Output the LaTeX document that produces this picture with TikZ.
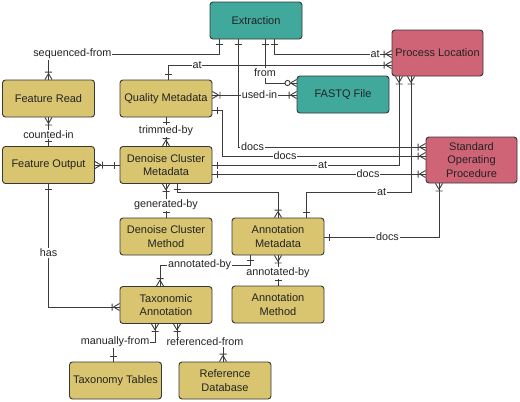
\documentclass[tikz,border=0pt]{standalone}
\usepackage{fontspec}
\setmainfont{Liberation Sans}
\usetikzlibrary{calc}
\definecolor{teal1}{RGB}{64,169,155}
\definecolor{pink1}{RGB}{207,100,118}
\definecolor{yel1}{RGB}{217,197,111}
\definecolor{edge1}{RGB}{55,55,55}
\definecolor{line1}{RGB}{60,60,60}
\definecolor{txt1}{RGB}{35,35,35}
\pgfarrowsdeclare{crw}{crw}
{\pgfarrowsleftextend{-8pt}\pgfarrowsrightextend{0pt}}
{\pgfsetdash{}{0pt}\pgfsetbuttcap
 \pgfpathmoveto{\pgfpoint{-6pt}{0pt}}\pgfpathlineto{\pgfpoint{0pt}{3.5pt}}
 \pgfpathmoveto{\pgfpoint{-6pt}{0pt}}\pgfpathlineto{\pgfpoint{0pt}{-3.5pt}}
 \pgfpathmoveto{\pgfpoint{-7.5pt}{3.5pt}}\pgfpathlineto{\pgfpoint{-7.5pt}{-3.5pt}}
 \pgfusepathqstroke}
\pgfarrowsdeclare{onebar}{onebar}
{\pgfarrowsleftextend{-6pt}\pgfarrowsrightextend{0pt}}
{\pgfsetdash{}{0pt}\pgfsetbuttcap
 \pgfpathmoveto{\pgfpoint{-5pt}{3.5pt}}\pgfpathlineto{\pgfpoint{-5pt}{-3.5pt}}
 \pgfusepathqstroke}
\pgfarrowsdeclare{zmany}{zmany}
{\pgfarrowsleftextend{-12pt}\pgfarrowsrightextend{0pt}}
{\pgfsetdash{}{0pt}\pgfsetbuttcap
 \pgfpathmoveto{\pgfpoint{-6pt}{0pt}}\pgfpathlineto{\pgfpoint{0pt}{3.5pt}}
 \pgfpathmoveto{\pgfpoint{-6pt}{0pt}}\pgfpathlineto{\pgfpoint{0pt}{-3.5pt}}
 \pgfusepathqstroke
 \pgfpathcircle{\pgfpoint{-9pt}{0pt}}{2.6pt}
 \pgfsetfillcolor{white}\pgfusepathqfillstroke}
\tikzset{
  box/.style={draw=edge1, line width=0.9pt, rounded corners=3pt,
    minimum width=92pt, minimum height=37pt, inner sep=0pt, align=center,
    text=txt1, font=\fontsize{11}{13.5}\selectfont},
  ybox/.style={box, fill=yel1},
  tbox/.style={box, fill=teal1},
  pbox/.style={box, fill=pink1, minimum height=46pt, minimum width=91pt},
  conn/.style={draw=line1, line width=0.9pt},
  lbl/.style={fill=white, inner sep=0.8pt, text=txt1,
    font=\fontsize{10.8}{12}\selectfont}
}
\begin{document}
\begin{tikzpicture}[x=1pt,y=-1pt]
\useasboundingbox (0,0) rectangle (520,402);
% boxes
\node[tbox] (ext) at (256,20.5) {Extraction};
\node[pbox] (pl) at (437.5,53) {Process Location};
\node[tbox] (fq) at (343,94.5) {FASTQ File};
\node[pbox] (sop) at (471.5,160) {Standard\\Operating\\Procedure};
\node[ybox] (fr) at (48.5,98.5) {Feature Read};
\node[ybox] (qm) at (166,98.5) {Quality Metadata};
\node[ybox] (fo) at (48.5,165) {Feature Output};
\node[ybox] (dcm) at (166,165) {Denoise Cluster\\Metadata};
\node[ybox] (dcmeth) at (166,236.5) {Denoise Cluster\\Method};
\node[ybox] (am) at (278,236.5) {Annotation\\Metadata};
\node[ybox] (ta) at (166,305) {Taxonomic\\Annotation};
\node[ybox] (amth) at (278,304.5) {Annotation\\Method};
\node[ybox] (tt) at (115.5,380.5) {Taxonomy Tables};
\node[ybox] (rd) at (225,380.5) {Reference\\Database};
% connectors
\draw[conn,crw-onebar] (fr.north) -- (48.5,54) -- node[lbl,pos=0.14] (l1) {sequenced-from} (219,54) -- (ext.south -| 219,0);
\draw[conn,onebar-crw] (qm.north -| 168,0) -- (168,65) -- node[lbl,pos=0.13] (l2) {at} (pl.west |- 0,65);
\draw[conn,onebar-crw] (ext.south -| 274,0) -- (274,54) -- node[lbl,pos=0.86] (l3) {at} (pl.west |- 0,54);
\draw[conn,onebar-crw] (ext.south -| 238,0) -- (238,147) -- node[lbl,pos=0.078] (l4) {docs} (sop.west |- 0,147);
\draw[conn,onebar-zmany] (ext.south -| 265,0) -- node[lbl,pos=0.77] (l5) {from} (265,83) -- (fq.west |- 0,83);
\draw[conn,crw-crw] (qm.east |- 0,95) -- node[lbl,pos=0.56] (l6) {used-in} (fq.west |- 0,95);
\draw[conn,onebar-crw] (qm.east |- 0,110) -- (222,110) -- (222,156) -- node[lbl,pos=0.31] (l7) {docs} (sop.west |- 0,156);
\draw[conn,onebar-crw] (dcm.east |- 0,165) -- node[lbl,pos=0.59] (l8) {at} (399,165) -- (pl.south -| 399,0);
\draw[conn,onebar-crw] (dcm.east |- 0,174) -- node[lbl,pos=0.73] (l9) {docs} (sop.west |- 0,174);
\draw[conn,onebar-crw] (dcm.south -| 177,0) -- (177,192) -- (278,192) -- (am.north);
\draw[conn,crw-onebar] (pl.south -| 411,0) -- (411,192) -- node[lbl,pos=0.28] (l11) {at} (306,192) -- (am.north -| 306,0);
\draw[conn,crw-onebar] (sop.south -| 439,0) -- (439,237) -- node[lbl,pos=0.45] (l12) {docs} (am.east |- 0,237);
\draw[conn,crw-onebar] (dcm.north) -- node[lbl,pos=0.53] (l13) {trimmed-by} (qm.south);
\draw[conn,crw-onebar] (fr.south) -- node[lbl,pos=0.6] (l14) {counted-in} (fo.north);
\draw[conn,crw-onebar] (fo.east) -- (dcm.west);
\draw[conn,crw-onebar] (dcm.south) -- node[lbl,pos=0.63] (l16) {generated-by} (dcmeth.north);
\draw[conn,onebar-crw] (fo.south) -- node[lbl,pos=0.56] (l17) {has} (48.5,307) -- (ta.west |- 0,307);
\draw[conn,crw-onebar] (ta.north -| 160,0) -- (160,265) -- node[lbl,pos=0.44] (l18) {annotated-by} (250,265) -- (am.south -| 250,0);
\draw[conn,crw-onebar] (am.south) -- node[lbl,pos=0.58] (l19) {annotated-by} (amth.north);
\draw[conn,crw-onebar] (ta.south -| 155,0) -- (155,342) -- node[lbl,pos=0.95] (l20) {manually-from} (113,342) -- (tt.north -| 113,0);
\draw[conn,crw-crw] (ta.south -| 177,0) -- (177,342) -- node[lbl,pos=0.61] (l21) {referenced-from} (223,342) -- (rd.north -| 223,0);
\end{tikzpicture}
\end{document}
